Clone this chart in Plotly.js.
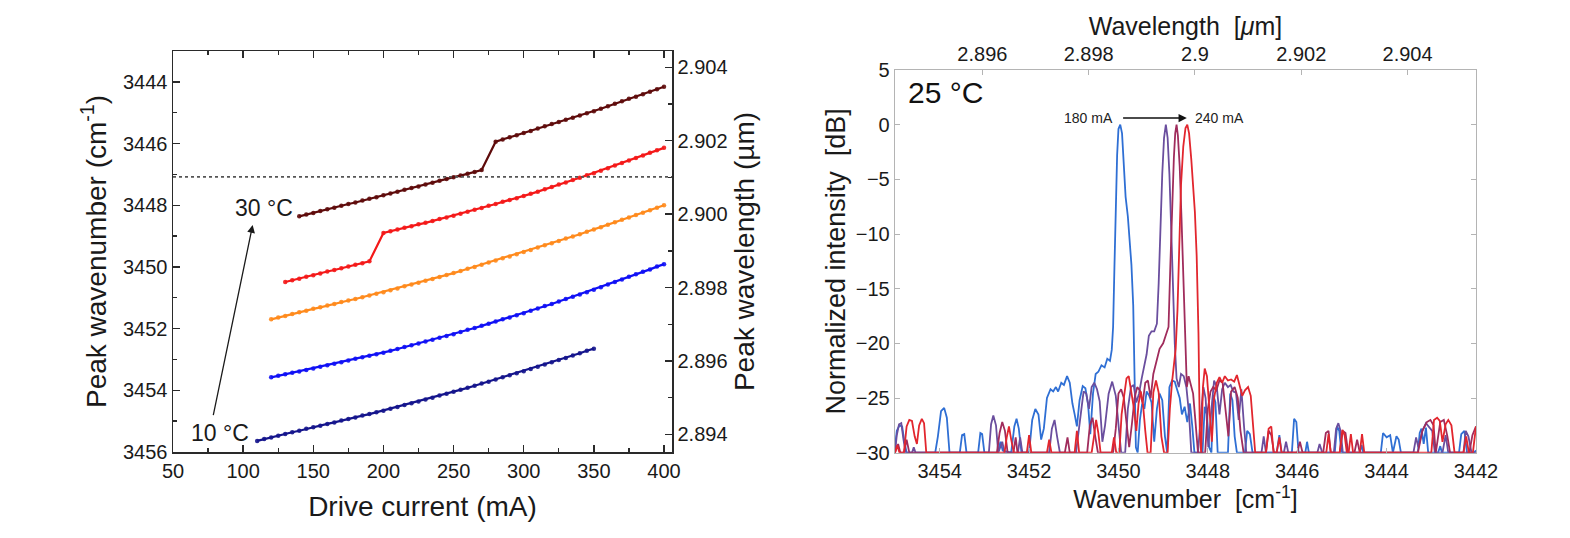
<!DOCTYPE html>
<html>
<head>
<meta charset="utf-8">
<script src="https://cdn.plot.ly/plotly-3.0.1.min.js"></script>
<style>html,body{margin:0;padding:0;background:#fff;}#chart{width:1570px;height:538px;}</style>
</head>
<body>
<div id="chart"></div>
<script>
// ---------- Left panel: peak wavenumber vs drive current ----------
const current10 = [110,115,120,125,130,135,140,145,150,155,160,165,170,175,180,185,190,195,200,205,210,215,220,225,230,235,240,245,250,255,260,265,270,275,280,285,290,295,300,305,310,315,320,325,330,335,340,345,350];
const wavenum10 = [3455.64,3455.58,3455.53,3455.47,3455.42,3455.36,3455.31,3455.25,3455.20,3455.15,3455.09,3455.04,3454.98,3454.93,3454.88,3454.82,3454.77,3454.71,3454.66,3454.60,3454.54,3454.48,3454.42,3454.36,3454.30,3454.24,3454.17,3454.11,3454.05,3453.98,3453.92,3453.85,3453.78,3453.72,3453.65,3453.58,3453.51,3453.45,3453.38,3453.31,3453.24,3453.16,3453.09,3453.02,3452.95,3452.87,3452.80,3452.72,3452.65];

const current15 = [120,125,130,135,140,145,150,155,160,165,170,175,180,185,190,195,200,205,210,215,220,225,230,235,240,245,250,255,260,265,270,275,280,285,290,295,300,305,310,315,320,325,330,335,340,345,350,355,360,365,370,375,380,385,390,395,400];
const wavenum15 = [3453.58,3453.53,3453.48,3453.43,3453.39,3453.34,3453.29,3453.24,3453.19,3453.14,3453.09,3453.03,3452.98,3452.93,3452.88,3452.83,3452.78,3452.72,3452.66,3452.60,3452.54,3452.48,3452.42,3452.36,3452.30,3452.24,3452.18,3452.11,3452.04,3451.98,3451.91,3451.84,3451.77,3451.70,3451.64,3451.57,3451.50,3451.42,3451.35,3451.27,3451.20,3451.12,3451.04,3450.97,3450.89,3450.82,3450.74,3450.66,3450.57,3450.49,3450.41,3450.32,3450.24,3450.16,3450.08,3449.99,3449.91];

const current20 = [120,125,130,135,140,145,150,155,160,165,170,175,180,185,190,195,200,205,210,215,220,225,230,235,240,245,250,255,260,265,270,275,280,285,290,295,300,305,310,315,320,325,330,335,340,345,350,355,360,365,370,375,380,385,390,395,400];
const wavenum20 = [3451.70,3451.64,3451.59,3451.53,3451.47,3451.42,3451.36,3451.31,3451.25,3451.20,3451.14,3451.09,3451.04,3450.98,3450.93,3450.87,3450.82,3450.76,3450.70,3450.63,3450.57,3450.51,3450.45,3450.39,3450.33,3450.26,3450.20,3450.13,3450.06,3450.00,3449.93,3449.86,3449.79,3449.72,3449.66,3449.59,3449.52,3449.45,3449.37,3449.30,3449.23,3449.16,3449.08,3449.01,3448.94,3448.86,3448.79,3448.71,3448.63,3448.55,3448.47,3448.40,3448.32,3448.24,3448.16,3448.08,3448.00];

const current25 = [130,135,140,145,150,155,160,165,170,175,180,185,190,200,205,210,215,220,225,230,235,240,245,250,255,260,265,270,275,280,285,290,295,300,305,310,315,320,325,330,335,340,345,350,355,360,365,370,375,380,385,390,395,400];
const wavenum25 = [3450.49,3450.43,3450.38,3450.32,3450.27,3450.21,3450.15,3450.10,3450.04,3449.99,3449.93,3449.88,3449.82,3448.90,3448.84,3448.79,3448.73,3448.68,3448.62,3448.57,3448.51,3448.45,3448.40,3448.34,3448.28,3448.21,3448.15,3448.09,3448.02,3447.96,3447.89,3447.83,3447.77,3447.70,3447.63,3447.56,3447.48,3447.41,3447.33,3447.26,3447.18,3447.11,3447.03,3446.96,3446.88,3446.80,3446.71,3446.63,3446.55,3446.47,3446.39,3446.30,3446.22,3446.14];

const current30 = [140,145,150,155,160,165,170,175,180,185,190,195,200,205,210,215,220,225,230,235,240,245,250,255,260,265,270,280,285,290,295,300,305,310,315,320,325,330,335,340,345,350,355,360,365,370,375,380,385,390,395,400];
const wavenum30 = [3448.36,3448.30,3448.25,3448.19,3448.13,3448.08,3448.02,3447.96,3447.91,3447.85,3447.79,3447.74,3447.68,3447.62,3447.56,3447.50,3447.44,3447.39,3447.33,3447.27,3447.21,3447.15,3447.09,3447.04,3446.98,3446.92,3446.86,3445.94,3445.87,3445.80,3445.73,3445.66,3445.59,3445.51,3445.44,3445.37,3445.30,3445.23,3445.16,3445.09,3445.02,3444.95,3444.87,3444.79,3444.71,3444.63,3444.55,3444.48,3444.40,3444.32,3444.24,3444.16];

const seriesNames  = ['10 °C','15 °C','20 °C','25 °C','30 °C'];
const seriesColors = ['#14148c','#1010f5','#ff8a1c','#f41818','#5e0a0a'];
const referenceWavenumber = 3447.08;

// ---------- Right panel: spectra at 25 °C ----------
const spectrumCurrents = ['180 mA','200 mA','220 mA','240 mA'];
const spectrumColors = ['#2f6fd4','#6a4e9e','#a02c5c','#e2262e'];

const specWn180 = [3455.00,3454.96,3454.90,3454.84,3454.79,3454.74,3454.10,3454.04,3453.97,3453.90,3453.84,3453.78,3453.55,3453.50,3453.45,3453.40,3453.14,3453.09,3453.05,3453.00,3452.70,3452.64,3452.59,3452.40,3452.33,3452.28,3452.23,3452.17,3452.00,3451.93,3451.86,3451.79,3451.73,3451.67,3451.60,3451.52,3451.46,3451.40,3451.35,3451.28,3451.22,3451.15,3451.09,3451.03,3450.98,3450.93,3450.87,3450.80,3450.74,3450.68,3450.63,3450.57,3450.51,3450.45,3450.38,3450.31,3450.25,3450.19,3450.15,3450.12,3450.09,3450.06,3450.03,3450.00,3449.96,3449.92,3449.88,3449.84,3449.79,3449.75,3449.71,3449.67,3449.64,3449.61,3449.57,3449.52,3449.47,3449.42,3449.37,3449.31,3449.26,3449.20,3449.14,3449.08,3449.02,3448.96,3448.91,3448.86,3448.80,3448.74,3448.69,3448.63,3448.58,3448.52,3448.46,3448.40,3448.35,3448.30,3448.12,3448.07,3448.02,3447.97,3447.92,3447.88,3447.83,3447.78,3447.55,3447.50,3447.45,3447.40,3447.35,3447.17,3447.12,3447.06,3447.00,3446.46,3446.40,3446.35,3446.12,3446.07,3446.02,3445.97,3445.82,3445.78,3445.74,3445.16,3445.11,3445.06,3445.01,3444.60,3444.56,3444.52,3444.13,3444.08,3444.00,3443.92,3443.86,3443.78,3443.73,3443.68,3443.30,3443.26,3443.22,3443.17,3443.12,3443.07,3442.85,3442.80,3442.76,3442.38,3442.33,3442.26,3442.20,3442.05,3442.00];
const specDb180 = [-29.5,-28.0,-27.5,-27.6,-29.0,-30,-30,-28.5,-26.2,-25.9,-26.8,-30,-30,-28.4,-28.3,-30,-30,-28.2,-28.3,-30,-30,-29.0,-29.8,-30,-27.6,-26.9,-27.8,-30,-30,-27.0,-26.0,-26.5,-28.8,-27.8,-25.0,-24.2,-24.4,-24.0,-24.4,-23.6,-23.8,-23.0,-23.6,-25.5,-26.5,-27.6,-25.2,-23.9,-24.1,-25.6,-28.3,-24.6,-22.8,-22.6,-22.0,-22.2,-21.4,-21.6,-20.6,-18.5,-13.0,-7.0,-2.8,-0.4,0,-0.8,-3.8,-6.6,-8.4,-10.5,-12.8,-16.5,-23.0,-29.5,-30,-27.0,-25.5,-26.0,-24.4,-24.8,-25.4,-29.0,-26.0,-24.6,-25.2,-28.5,-30,-24.0,-23.4,-23.5,-24.2,-25.0,-26.5,-25.8,-27.2,-25.5,-27.5,-30,-30,-25.8,-26.5,-29.5,-30,-24.7,-25.4,-30,-30,-24.6,-25.2,-28.5,-30,-30,-28.0,-28.3,-30,-30,-28.4,-30,-30,-26.9,-27.2,-30,-30,-29.0,-30,-30,-27.6,-28.0,-30,-30,-29.3,-30,-30,-28.2,-28.6,-28.4,-30,-28.5,-28.8,-30,-30,-28.2,-27.8,-29.2,-27.7,-30,-30,-29.4,-30,-30,-28.3,-28.0,-30,-30,-29.8];

const specWn200 = [3455.00,3454.96,3454.91,3454.86,3454.81,3454.76,3454.62,3454.58,3454.54,3452.90,3452.85,3452.80,3452.74,3452.69,3452.60,3452.55,3452.25,3452.20,3452.15,3451.55,3451.49,3451.43,3451.37,3451.31,3450.95,3450.86,3450.78,3450.72,3450.66,3450.60,3450.54,3450.48,3450.42,3450.36,3450.30,3450.22,3450.14,3450.06,3450.00,3449.94,3449.85,3449.79,3449.72,3449.66,3449.60,3449.54,3449.48,3449.42,3449.37,3449.32,3449.26,3449.20,3449.14,3449.10,3449.06,3449.02,3448.98,3448.94,3448.90,3448.86,3448.82,3448.78,3448.74,3448.70,3448.65,3448.60,3448.54,3448.48,3448.42,3448.37,3448.22,3448.16,3448.10,3448.05,3447.99,3447.93,3447.86,3447.80,3447.74,3447.68,3447.62,3447.55,3447.49,3447.43,3447.37,3447.31,3447.25,3447.19,3447.14,3446.80,3446.75,3446.70,3446.30,3446.25,3446.20,3445.55,3445.50,3445.44,3445.18,3445.13,3445.08,3445.03,3444.98,3443.40,3443.34,3443.29,3443.20,3443.12,3443.06,3442.98,3442.92,3442.75,3442.68,3442.62,3442.28,3442.23,3442.17,3442.10,3442.00];
const specDb200 = [-30,-28.4,-27.4,-27.3,-28.8,-30,-30,-29.5,-30,-30,-27.4,-26.6,-27.5,-30,-29.0,-30,-30,-28.6,-30,-30,-27.8,-27.0,-28.6,-30,-30,-27.0,-24.4,-24.6,-26.0,-24.0,-23.6,-24.2,-25.3,-29.0,-27.5,-24.6,-23.5,-24.8,-27.5,-30,-30,-26.0,-24.0,-23.8,-25.4,-24.6,-23.2,-22.0,-21.0,-19.3,-18.9,-18.9,-18.2,-14.5,-9.0,-4.5,-1.2,0,-1.2,-4.5,-9.5,-15.0,-20.0,-23.2,-24.0,-22.8,-23.0,-24.0,-26.5,-30,-30,-26.8,-24.0,-25.0,-29.5,-26.5,-23.4,-24.0,-26.5,-24.2,-23.6,-24.0,-23.8,-24.4,-24.5,-27.0,-24.2,-27.6,-30,-30,-28.5,-30,-30,-29.0,-30,-30,-29.2,-30,-30,-27.8,-27.3,-28.0,-30,-30,-28.6,-29.5,-28.0,-27.3,-27.6,-28.0,-30,-30,-28.4,-30,-30,-28.0,-28.5,-30,-30];

const specWn220 = [3455.00,3454.93,3454.88,3454.80,3454.74,3454.68,3452.72,3452.66,3452.60,3452.54,3452.48,3452.35,3452.30,3452.26,3451.20,3451.14,3451.09,3450.70,3450.64,3450.58,3450.52,3450.46,3450.12,3450.06,3450.00,3449.94,3449.88,3449.82,3449.76,3449.70,3449.64,3449.58,3449.52,3449.46,3449.40,3449.34,3449.28,3449.22,3449.16,3449.08,3449.00,3448.94,3448.88,3448.84,3448.80,3448.76,3448.73,3448.70,3448.67,3448.63,3448.59,3448.55,3448.51,3448.47,3448.43,3448.38,3448.33,3448.28,3448.22,3448.06,3448.00,3447.94,3447.88,3447.81,3447.74,3447.67,3447.60,3447.54,3447.48,3447.40,3447.33,3447.27,3447.20,3446.70,3446.64,3446.58,3446.52,3446.00,3445.94,3445.88,3445.42,3445.36,3445.30,3445.25,3445.05,3444.98,3444.92,3444.86,3444.72,3444.66,3444.60,3443.30,3443.20,3443.10,3443.02,3442.95,3442.90,3442.80,3442.72,3442.64,3442.58,3442.15,3442.08,3442.02,3442.00];
const specDb220 = [-30,-29.2,-30,-30,-28.8,-30,-30,-28.2,-27.2,-28.0,-30,-30,-28.6,-30,-30,-28.6,-30,-30,-27.5,-26.8,-28.5,-30,-30,-27.8,-24.6,-24.2,-25.0,-27.0,-29.5,-27.4,-25.0,-24.0,-24.3,-25.5,-23.6,-23.4,-25.0,-22.8,-21.8,-20.5,-20.0,-19.2,-18.5,-13.0,-7.5,-3.0,-0.8,0,-1.0,-3.8,-8.5,-14.0,-20.0,-24.0,-23.0,-23.8,-24.6,-27.0,-30,-30,-26.0,-24.4,-24.0,-24.3,-23.4,-23.6,-26.0,-28.5,-24.4,-24.0,-25.0,-28.0,-30,-30,-28.0,-28.4,-30,-30,-29.0,-30,-30,-28.2,-28.0,-30,-30,-28.0,-28.2,-30,-30,-28.8,-30,-30,-28.0,-27.2,-27.0,-27.5,-30,-27.2,-27.0,-28.5,-30,-30,-28.4,-27.8,-27.6];

const specWn240 = [3455.00,3454.95,3454.90,3454.80,3454.74,3454.68,3454.62,3454.56,3454.51,3454.46,3454.40,3454.35,3454.30,3452.55,3452.50,3452.45,3452.40,3452.34,3452.05,3452.00,3451.95,3451.60,3451.55,3451.50,3450.98,3450.93,3450.88,3450.60,3450.55,3450.50,3450.45,3450.40,3450.15,3450.10,3450.05,3449.98,3449.93,3449.87,3449.82,3449.77,3449.71,3449.66,3449.60,3449.55,3449.50,3449.45,3449.40,3449.35,3449.28,3449.22,3449.16,3449.10,3449.04,3448.98,3448.90,3448.85,3448.80,3448.76,3448.72,3448.68,3448.64,3448.60,3448.55,3448.50,3448.46,3448.42,3448.37,3448.33,3448.29,3448.25,3448.21,3448.18,3448.15,3448.11,3448.07,3448.02,3447.96,3447.91,3447.86,3447.80,3447.74,3447.68,3447.62,3447.55,3447.48,3447.41,3447.35,3447.29,3447.23,3447.17,3447.10,3447.04,3446.99,3446.94,3446.70,3446.64,3446.58,3446.53,3446.46,3446.40,3446.35,3445.35,3445.30,3445.25,3445.05,3444.99,3444.94,3444.89,3444.85,3444.80,3444.75,3444.60,3444.55,3444.50,3443.00,3442.94,3442.87,3442.81,3442.75,3442.68,3442.62,3442.55,3442.48,3442.28,3442.22,3442.16,3442.07,3442.00];
const specDb240 = [-30,-29.3,-30,-30,-27.6,-27.0,-27.1,-28.5,-29.2,-27.5,-26.9,-27.3,-30,-30,-28.6,-27.6,-28.8,-30,-30,-28.4,-30,-30,-28.8,-30,-30,-28.0,-30,-30,-28.6,-27.0,-28.2,-30,-30,-28.6,-30,-30,-26.5,-24.8,-23.2,-23.0,-24.5,-25.8,-28.0,-25.5,-24.4,-25.6,-28.0,-30,-30,-24.5,-23.4,-24.5,-28.5,-30,-30,-26.0,-23.5,-21.8,-20.5,-17.0,-11.0,-5.5,-2.0,-0.3,0,-0.8,-3.2,-5.5,-8.0,-12.0,-19.0,-28.0,-30,-24.0,-22.3,-23.0,-26.0,-29.0,-25.0,-23.6,-23.1,-23.6,-23.0,-23.4,-23.3,-23.5,-22.9,-24.0,-24.8,-24.3,-24.0,-24.8,-27.5,-30,-30,-27.8,-27.6,-30,-30,-28.6,-30,-30,-28.3,-30,-30,-27.9,-28.4,-30,-30,-28.3,-30,-30,-28.3,-30,-30,-27.0,-26.8,-27.1,-29.0,-27.4,-27.0,-27.5,-30,-30,-28.5,-30,-30,-27.6];

// ---------- Build traces ----------
const FONT = 'Arial, "Liberation Sans", sans-serif';
const leftX = [current10, current15, current20, current25, current30];
const leftY = [wavenum10, wavenum15, wavenum20, wavenum25, wavenum30];
const traces = [];
for (let i = 0; i < leftX.length; i++) {
  traces.push({
    type: 'scatter', mode: 'lines+markers', name: seriesNames[i],
    x: leftX[i], y: leftY[i], xaxis: 'x', yaxis: 'y',
    line: {color: seriesColors[i], width: 2.2},
    marker: {color: seriesColors[i], size: 4.5, opacity: 0.9},
    showlegend: false
  });
}
const specX = [specWn180, specWn200, specWn220, specWn240];
const specY = [specDb180, specDb200, specDb220, specDb240];
for (let i = 0; i < specX.length; i++) {
  traces.push({
    type: 'scatter', mode: 'lines', name: spectrumCurrents[i],
    x: specX[i], y: specY[i], xaxis: 'x3', yaxis: 'y3',
    line: {color: spectrumColors[i], width: 1.8},
    showlegend: false
  });
}
// empty traces that only register the secondary (wavelength) axes so they are drawn
traces.push({type: 'scatter', mode: 'lines', x: [], y: [], xaxis: 'x', yaxis: 'y2', showlegend: false, hoverinfo: 'skip'});
traces.push({type: 'scatter', mode: 'lines', x: [], y: [], xaxis: 'x4', yaxis: 'y3', showlegend: false, hoverinfo: 'skip'});

const W = 1570, H = 538;
const leftDomX = [173 / W, 672 / W];
const leftDomY = [1 - 452 / H, 1 - 51 / H];
const rightDomX = [895 / W, 1476 / W];
const rightDomY = [1 - 452.7 / H, 1 - 70 / H];

const blackAxis = {
  showline: true, linecolor: '#2a2a2a', linewidth: 1.5,
  ticks: 'inside', ticklen: 7, tickwidth: 1.4, tickcolor: '#2a2a2a',
  showgrid: false, zeroline: false,
  tickfont: {family: FONT, size: 20, color: '#1a1a1a'}
};
const grayAxis = {
  showline: true, linecolor: '#b4b4b4', linewidth: 1.3,
  ticks: 'inside', ticklen: 5, tickwidth: 1, tickcolor: '#b4b4b4',
  showgrid: false, zeroline: false,
  tickfont: {family: FONT, size: 20, color: '#1a1a1a'}
};

const layout = {
  width: W, height: H,
  margin: {l: 0, r: 0, t: 0, b: 0},
  paper_bgcolor: '#ffffff', plot_bgcolor: '#ffffff',
  showlegend: false,
  font: {family: FONT, color: '#1a1a1a'},
  xaxis: Object.assign({}, blackAxis, {
    domain: leftDomX, anchor: 'y', range: [50, 405.7],
    tick0: 50, dtick: 50, mirror: 'ticks',
    minor: {dtick: 25, ticks: 'inside', ticklen: 4, tickcolor: '#2a2a2a'},
    title: {text: 'Drive current (mA)', font: {family: FONT, size: 28}, standoff: 16}
  }),
  yaxis: Object.assign({}, blackAxis, {
    domain: leftDomY, anchor: 'x', range: [3456, 3443],
    tick0: 3444, dtick: 2,
    minor: {dtick: 1, ticks: 'inside', ticklen: 4, tickcolor: '#2a2a2a'},
    title: {text: 'Peak wavenumber (cm<sup>-1</sup>)', font: {family: FONT, size: 28}, standoff: 8}
  }),
  yaxis2: Object.assign({}, blackAxis, {
    overlaying: 'y', side: 'right', anchor: 'x',
    range: [2.893519, 2.904443], tick0: 2.894, dtick: 0.002, tickformat: '.3f',
    minor: {dtick: 0.001, ticks: 'inside', ticklen: 4, tickcolor: '#2a2a2a'},
    title: {text: 'Peak wavelength (µm)', font: {family: FONT, size: 28}, standoff: 8}
  }),
  xaxis3: Object.assign({}, grayAxis, {
    domain: rightDomX, anchor: 'y3', range: [3455, 3442],
    tick0: 3442, dtick: 2,
    title: {text: 'Wavenumber \u00a0[cm<sup>-1</sup>]', font: {family: FONT, size: 25}, standoff: 2}
  }),
  yaxis3: Object.assign({}, grayAxis, {
    domain: rightDomY, anchor: 'x3', range: [-30, 5],
    tick0: -30, dtick: 5, mirror: 'ticks',
    title: {text: 'Normalized intensity \u00a0[dB]', font: {family: FONT, size: 27}, standoff: 2}
  }),
  xaxis4: Object.assign({}, grayAxis, {
    overlaying: 'x3', side: 'top', anchor: 'y3',
    range: [2.894356, 2.905288], tick0: 2.896, dtick: 0.002,
    title: {text: 'Wavelength \u00a0[<i>μ</i>m]', font: {family: FONT, size: 25}, standoff: 0}
  }),
  shapes: [{
    type: 'line', xref: 'x domain', yref: 'y', x0: 0, x1: 1,
    y0: referenceWavenumber, y1: referenceWavenumber,
    line: {color: '#555555', width: 1.6, dash: 'dot'}
  }],
  annotations: [
    {xref: 'x', yref: 'y', x: 115, y: 3448.09, text: '30 °C', showarrow: false,
     font: {family: FONT, size: 23, color: '#1a1a1a'}},
    {xref: 'x', yref: 'y', x: 83.5, y: 3455.37, text: '10 °C', showarrow: false,
     font: {family: FONT, size: 23, color: '#1a1a1a'}},
    {xref: 'x', yref: 'y', x: 106.8, y: 3448.64, ax: 78.5, ay: 3454.85,
     axref: 'x', ayref: 'y', text: '', showarrow: true,
     arrowhead: 2, arrowsize: 1.2, arrowwidth: 1.3, arrowcolor: '#1a1a1a'},
    {xref: 'x3', yref: 'y3', x: 3454.75, y: 2.9, xanchor: 'left', text: '25 °C', showarrow: false,
     font: {family: FONT, size: 30, color: '#111'}},
    {xref: 'x3', yref: 'y3', x: 3450.08, y: 0.6, xanchor: 'right', text: '180 mA', showarrow: false,
     font: {family: FONT, size: 14, color: '#222'}},
    {xref: 'x3', yref: 'y3', x: 3448.33, y: 0.6, xanchor: 'left', text: '240 mA', showarrow: false,
     font: {family: FONT, size: 14, color: '#222'}},
    {xref: 'x3', yref: 'y3', x: 3448.47, y: 0.6, ax: 3449.93, ay: 0.6,
     axref: 'x3', ayref: 'y3', text: '', showarrow: true,
     arrowhead: 2, arrowsize: 1.1, arrowwidth: 1.5, arrowcolor: '#111'}
  ]
};

Plotly.newPlot('chart', traces, layout, {staticPlot: true, displayModeBar: false});
</script>
</body>
</html>
